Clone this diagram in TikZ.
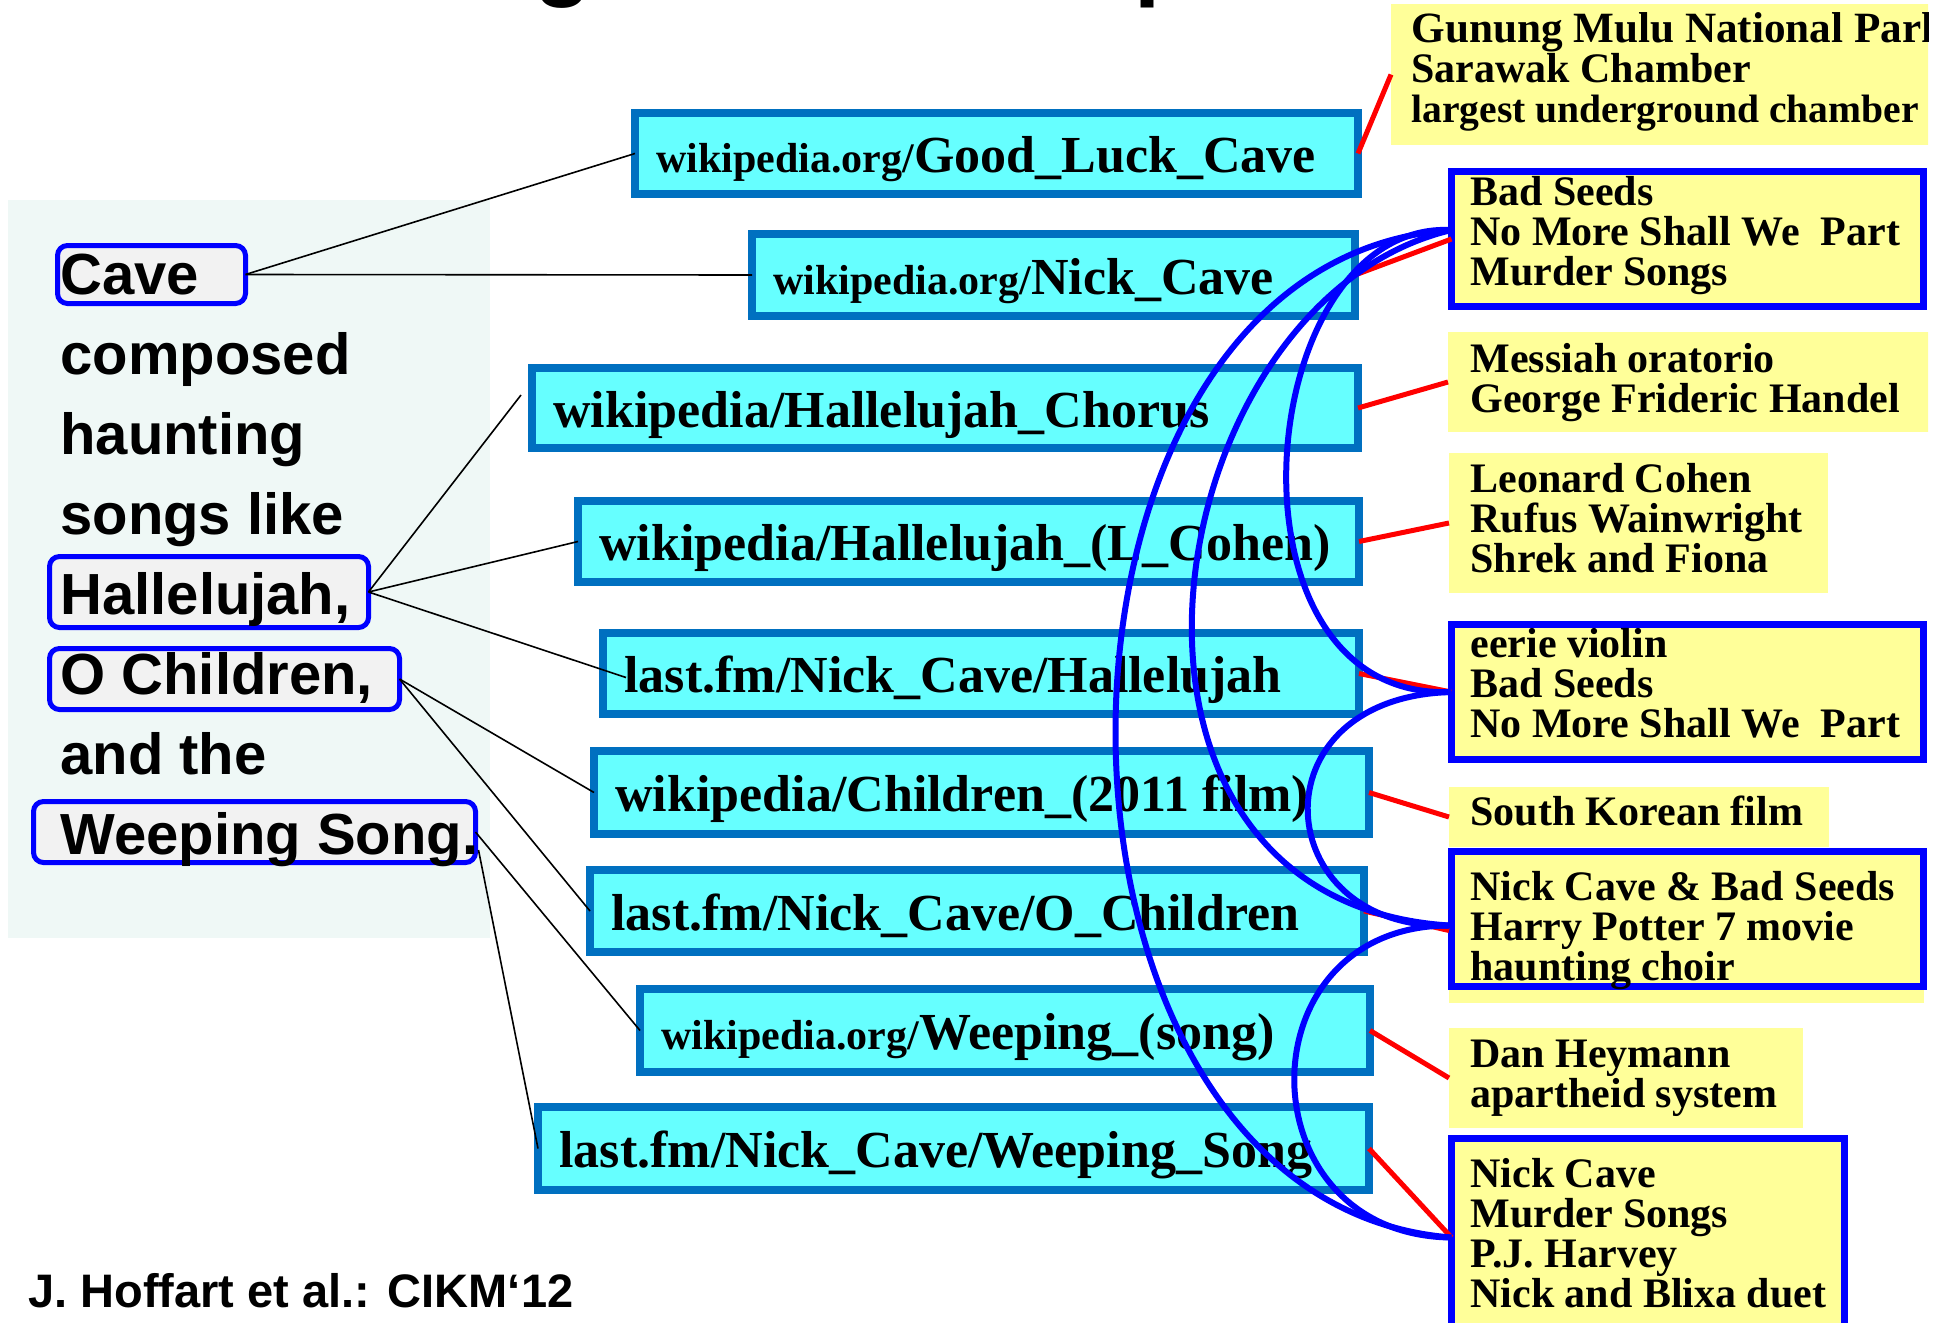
\documentclass[tikz,border=0pt]{standalone}
\usepackage{fontspec}
\setmainfont{Liberation Serif}
\newfontfamily\arialfont{Liberation Sans}
\usetikzlibrary{calc}

\definecolor{cyanfill}{HTML}{66FFFF}
\definecolor{cyanedge}{HTML}{0070C0}
\definecolor{notefill}{HTML}{FFFF99}
\definecolor{panel}{HTML}{EFF8F6}
\definecolor{chip}{HTML}{F2F2F2}
\definecolor{linkblue}{HTML}{0000FF}
\definecolor{linkred}{HTML}{FF0000}

% node of given outer extent: style, name, x1, y1, x2, y2, border width (px)
\newcommand\boxat[7]{%
  \node[#1, minimum width={(#5-#3-#7)*0.5pt}, minimum height={(#6-#4-#7)*0.5pt}]
    (#2) at ({(#3+#5)/2},{(#4+#6)/2}) {};}
\newcommand\smallpart[1]{{\fontsize{21}{21}\selectfont #1}}

\begin{document}
\begin{tikzpicture}[x=0.5pt,y=-0.5pt,
  ubox/.style={rectangle, draw=cyanedge, fill=cyanfill, line width=4pt, inner sep=0pt, outer sep=0pt},
  chipbox/.style={rectangle, draw=linkblue, fill=chip, line width=2.5pt, rounded corners=5pt, inner sep=0pt, outer sep=0pt},
  note/.style={rectangle, fill=notefill, inner sep=0pt, outer sep=0pt},
  notebox/.style={note, draw=linkblue, line width=3.5pt},
  utext/.style={anchor=base west, inner sep=0pt, font=\bfseries\fontsize{26}{26}\selectfont},
  ntext/.style={anchor=base west, inner sep=0pt, font=\bfseries\fontsize{21}{21}\selectfont},
  ltext/.style={anchor=base west, inner sep=0pt, font=\arialfont\bfseries\fontsize{29}{29}\selectfont},
  wire/.style={black, line width=0.8pt},
  redwire/.style={linkred, line width=2.5pt},
  bluewire/.style={linkblue, line width=3pt}]

\useasboundingbox (0,0) rectangle (1952,1322);
\clip (0,0) rectangle (1928,1322);

% left text panel
\fill[panel] (8,200) rectangle (490,938);

% heading, cut off at the top edge
\node[anchor=base west, inner sep=0pt, font=\arialfont\bfseries\fontsize{47}{47}\selectfont] (tg) at (534,-11) {g};
\node[anchor=base west, inner sep=0pt, font=\arialfont\bfseries\fontsize{47}{47}\selectfont] (tp) at (1134,-11) {p};

% highlighted mentions
\boxat{chipbox}{kcave}{55}{243}{248}{306}{5}
\boxat{chipbox}{khall}{47}{554}{371}{630}{5}
\boxat{chipbox}{kochild}{47}{646}{402}{712}{5}
\boxat{chipbox}{kweep}{31}{799}{478}{865}{5}

\node[ltext] (l1) at (60,294) {Cave};
\node[ltext] (l2) at (60,374) {composed};
\node[ltext] (l3) at (60,454) {haunting};
\node[ltext] (l4) at (60,534) {songs like};
\node[ltext] (l5) at (60,614) {Hallelujah,};
\node[ltext] (l6) at (60,694) {O Children,};
\node[ltext] (l7) at (60,774) {and the};
\node[ltext] (l8) at (60,854) {Weeping Song.};

% candidate entities
\boxat{ubox}{b1}{631}{109}{1362}{198}{8}
\boxat{ubox}{b2}{748}{230}{1359}{320}{8}
\boxat{ubox}{b3}{528}{364}{1362}{452}{8}
\boxat{ubox}{b4}{574}{497}{1363}{586}{8}
\boxat{ubox}{b5}{599}{629}{1363}{718}{8}
\boxat{ubox}{b6}{590}{747}{1373}{838}{8}
\boxat{ubox}{b7}{586}{866}{1368}{956}{8}
\boxat{ubox}{b8}{636}{985}{1374}{1076}{8}
\boxat{ubox}{b9}{534}{1103}{1373}{1194}{8}

\node[utext] (b1t) at ($(b1.west)+(21,19)$) {\smallpart{wikipedia.org/}Good\_Luck\_Cave};
\node[utext] (b2t) at ($(b2.west)+(21,19)$) {\smallpart{wikipedia.org/}Nick\_Cave};
\node[utext] (b3t) at ($(b3.west)+(21,19)$) {wikipedia/Hallelujah\_Chorus};
\node[utext] (b4t) at ($(b4.west)+(21,19)$) {wikipedia/Hallelujah\_(L\_Cohen)};
\node[utext] (b5t) at ($(b5.west)+(21,19)$) {last.fm/Nick\_Cave/Hallelujah};
\node[utext] (b6t) at ($(b6.west)+(21,19)$) {wikipedia/Children\_(2011 film)};
\node[utext] (b7t) at ($(b7.west)+(21,19)$) {last.fm/Nick\_Cave/O\_Children};
\node[utext] (b8t) at ($(b8.west)+(21,19)$) {\smallpart{wikipedia.org/}Weeping\_(song)};
\node[utext] (b9t) at ($(b9.west)+(21,19)$) {last.fm/Nick\_Cave/Weeping\_Song};

% keyphrase notes
\boxat{note}{y1}{1391}{4}{1940}{145}{0}
\boxat{notebox}{y2}{1448}{168}{1927}{310}{7}
\boxat{note}{y3}{1448}{332}{1940}{432}{0}
\boxat{note}{y4}{1449}{453}{1828}{593}{0}
\boxat{notebox}{y5}{1448}{621}{1927}{763}{7}
\boxat{note}{y6}{1449}{787}{1829}{847}{0}
\boxat{note}{y7}{1449}{848}{1924}{1003}{0}
\boxat{notebox, fill=none}{y7f}{1448}{848}{1927}{990}{7}
\boxat{note}{y8}{1449}{1028}{1803}{1128}{0}
\boxat{notebox}{y9}{1448}{1135}{1848}{1340}{7}

\node[ntext, font=\bfseries\fontsize{21.6}{21.6}\selectfont] (y1a) at (1411,43) {Gunung Mulu National Park};
\node[ntext] (y1b) at (1411,83) {Sarawak Chamber};
\node[ntext, font=\bfseries\fontsize{19.8}{19.8}\selectfont] (y1c) at (1411,123) {largest underground chamber};
\node[ntext] (y2a) at (1470,205) {Bad Seeds};
\node[ntext] (y2b) at (1470,245) {No More Shall We\ \ Part};
\node[ntext] (y2c) at (1470,285) {Murder Songs};
\node[ntext] (y3a) at (1470,372) {Messiah oratorio};
\node[ntext] (y3b) at (1470,412) {George Frideric Handel};
\node[ntext] (y4a) at (1470,492) {Leonard Cohen};
\node[ntext] (y4b) at (1470,532) {Rufus Wainwright};
\node[ntext] (y4c) at (1470,572) {Shrek and Fiona};
\node[ntext] (y5a) at (1470,657) {eerie violin};
\node[ntext] (y5b) at (1470,697) {Bad Seeds};
\node[ntext] (y5c) at (1470,737) {No More Shall We\ \ Part};
\node[ntext] (y6a) at (1470,825) {South Korean film};
\node[ntext] (y7a) at (1470,900) {Nick Cave \& Bad Seeds};
\node[ntext] (y7b) at (1470,940) {Harry Potter 7 movie};
\node[ntext] (y7c) at (1470,980) {haunting choir};
\node[ntext] (y8a) at (1470,1067) {Dan Heymann};
\node[ntext] (y8b) at (1470,1107) {apartheid system};
\node[ntext] (y9a) at (1470,1187) {Nick Cave};
\node[ntext] (y9b) at (1470,1227) {Murder Songs};
\node[ntext] (y9c) at (1470,1267) {P.J. Harvey};
\node[ntext] (y9d) at (1470,1307) {Nick and Blixa duet};

% mention-entity candidates
\coordinate (b3tip) at ($(b3.west)+(-11,-13)$);
\coordinate (b5tip) at ($(b5.west)+(23,4)$);
\coordinate (kweeplow) at ($(kweep.east)+(3,18)$);
\draw[wire] (kcave.east) -- (b1.west);
\draw[wire] (kcave.east) -- (b2.west);
\draw[wire] (khall.east) -- (b3tip);
\draw[wire] (khall.east) -- (b4.west);
\draw[wire] (khall.east) -- (b5tip);
\draw[wire] (kochild.east) -- (b6.west);
\draw[wire] (kochild.east) -- (b7.west);
\draw[wire] (kweep.east) -- (b8.west);
\draw[wire] (kweeplow) -- (b9.west);

% entity-keyphrase links
\coordinate (y7in) at ($(y7.west)+(0,5)$);
\draw[redwire] (b1.east) -- (y1.west);
\draw[redwire] (b2.east) -- (y2.west);
\draw[redwire] (b3.east) -- (y3.west);
\draw[redwire] (b4.east) -- (y4.west);
\draw[redwire] (b5.east) -- (y5.west);
\draw[redwire] (b6.east) -- (y6.west);
\draw[redwire] (b7.east) -- (y7in);
\draw[redwire] (b8.east) -- (y8.west);
\draw[redwire] (b9.east) -- (y9.west);

% keyphrase overlap between entities
\coordinate (y2hub) at ($(y2.west)+(0,-9)$);
\draw[bluewire] (y2hub) .. controls +(-448,30) and +(-448,-35) .. (y9.west);
\draw[bluewire] (y2hub) .. controls +(-298,70) and +(-388,-25) .. (y7.west);
\draw[bluewire] (y2hub) .. controls +(-200,-10) and +(-240,10) .. (y5.west);
\draw[bluewire] (y5.west) .. controls +(-200,5) and +(-180,5) .. (y7.west);
\draw[bluewire] (y7.west) .. controls +(-208,0) and +(-208,-2) .. (y9.west);

\node[anchor=base west, inner sep=0pt, font=\arialfont\bfseries\fontsize{23.5}{23.5}\selectfont] (credit) at (28,1307) {J. Hoffart et al.: CIKM‘12};
\end{tikzpicture}
\end{document}
